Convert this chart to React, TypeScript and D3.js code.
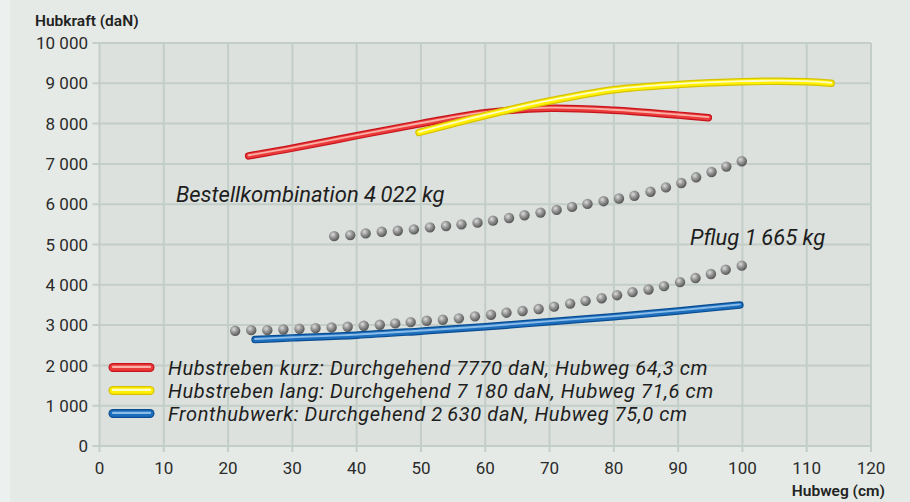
import React from 'react';
import * as d3 from 'd3';

// axis ticks
const xTicks = [0, 10, 20, 30, 40, 50, 60, 70, 80, 90, 100, 110, 120];
const yTicks = [0, 1000, 2000, 3000, 4000, 5000, 6000, 7000, 8000, 9000, 10000];
const yTickLabels = ['0', '1 000', '2 000', '3 000', '4 000', '5 000', '6 000', '7 000', '8 000', '9 000', '10 000'];

// Hubstreben kurz (red)
const kurzPoints: [number, number][] = [
  [23.2, 7200], [30, 7390], [40, 7700], [50, 8000], [60, 8270], [70, 8380], [80, 8330], [90, 8210], [94.7, 8145],
];
// Hubstreben lang (yellow)
const langPoints: [number, number][] = [
  [49.7, 7780], [60, 8200], [70, 8560], [80, 8840], [90, 8970], [100, 9040], [110, 9040], [113.8, 9000],
];
// Fronthubwerk (blue)
const frontPoints: [number, number][] = [
  [24.2, 2640], [30, 2683], [40, 2750], [50, 2850], [60, 2958], [70, 3083], [80, 3208], [90, 3350], [99.6, 3500],
];

// Bestellkombination 4022 kg (grey dots)
const bestellX = [36.5, 39.0, 41.4, 43.9, 46.4, 48.9, 51.4, 53.9, 56.3, 58.8, 61.2, 63.7, 66.1, 68.6, 71.1, 73.5, 75.9, 78.4, 80.8, 83.2, 85.7, 88.1, 90.5, 92.8, 95.2, 97.5, 99.9];
const bestellY = [5208, 5233, 5275, 5317, 5342, 5375, 5425, 5458, 5500, 5542, 5592, 5658, 5725, 5792, 5858, 5933, 6008, 6075, 6142, 6208, 6308, 6417, 6525, 6667, 6800, 6933, 7067];

// Pflug 1665 kg (grey dots)
const pflugX = [21.1, 23.6, 26.1, 28.6, 31.1, 33.6, 36.1, 38.6, 41.1, 43.6, 46.0, 48.4, 50.9, 53.4, 55.9, 58.4, 60.9, 63.3, 65.8, 68.3, 70.7, 73.2, 75.6, 78.1, 80.5, 82.9, 85.4, 87.8, 90.3, 92.7, 95.1, 97.4, 99.9];
const pflugY = [2858, 2875, 2875, 2892, 2908, 2925, 2942, 2958, 2983, 3008, 3042, 3075, 3108, 3133, 3167, 3217, 3258, 3308, 3350, 3400, 3458, 3533, 3600, 3667, 3742, 3817, 3883, 3967, 4067, 4167, 4267, 4375, 4475];

const legendLabels = [
  'Hubstreben kurz: Durchgehend 7770 daN, Hubweg 64,3 cm',
  'Hubstreben lang: Durchgehend 7 180 daN, Hubweg 71,6 cm',
  'Fronthubwerk: Durchgehend 2\u2009630 daN, Hubweg 75,0 cm',
];

const tubes = [
  { points: kurzPoints, dark: '#c8141c', base: '#ea3a3a', light: '#f9b0a6' },
  { points: langPoints, dark: '#d6c200', base: '#fff000', light: '#fffcc8' },
  { points: frontPoints, dark: '#0a4d92', base: '#1d6fbe', light: '#8cbce8' },
];

const W = 910;
const H = 502;
const FONT = "Roboto, 'Open Sans', sans-serif";

export default function App() {
  const x = d3.scaleLinear().domain([0, 120]).range([99.5, 871]);
  const y = d3.scaleLinear().domain([0, 10000]).range([446, 43]);

  const line = d3.line<[number, number]>()
    .x(d => x(d[0]))
    .y(d => y(d[1]))
    .curve(d3.curveCatmullRom.alpha(0.5));

  const grid = '#c3cec8';
  const tickColor = '#2b2b2b';

  const tube = (d: string, t: typeof tubes[0], w: number, key: string) => (
    <g key={key}>
      <path d={d} fill="none" stroke={t.dark} strokeWidth={w} strokeLinecap="round" />
      <path d={d} fill="none" stroke={t.base} strokeWidth={w - 2.4} strokeLinecap="round" />
      <path d={d} fill="none" stroke={t.light} strokeWidth={w * 0.25} strokeLinecap="round" transform="translate(0,-0.6)" />
    </g>
  );

  return (
    <svg width={W} height={H} style={{ position: 'absolute', left: 0, top: 0 }} fontFamily={FONT}>
      <defs>
        <radialGradient id="ball" cx="0.38" cy="0.35" r="0.65">
          <stop offset="0" stopColor="#dcdcdc" />
          <stop offset="0.45" stopColor="#9a9a9a" />
          <stop offset="1" stopColor="#575757" />
        </radialGradient>
      </defs>

      {/* backgrounds */}
      <rect x={0} y={0} width={W} height={H} fill="#e5eae6" />
      <rect x={0} y={0} width={10} height={H} fill="#ecf1f0" />
      <rect x={x(0)} y={y(10000)} width={x(120) - x(0)} height={y(0) - y(10000)} fill="#dce1dd" />

      {/* grid */}
      {yTicks.map(t => (
        <line key={'gy' + t} x1={x(0) - 7} x2={x(120)} y1={y(t)} y2={y(t)} stroke={grid} strokeWidth={2} />
      ))}
      {xTicks.map(t => (
        <line key={'gx' + t} x1={x(t)} x2={x(t)} y1={y(10000)} y2={y(0) + 6} stroke={grid} strokeWidth={2} />
      ))}

      {/* tick labels */}
      {yTicks.map((t, i) => (
        <text key={'ly' + t} x={88} y={y(t)} dy="0.36em" textAnchor="end" fontSize={17} fill={tickColor}>
          {yTickLabels[i]}
        </text>
      ))}
      {xTicks.map(t => (
        <text key={'lx' + t} x={x(t)} y={474} textAnchor="middle" fontSize={17} fill={tickColor}>
          {t}
        </text>
      ))}

      <text x={35} y={26} fontSize={15.5} fontWeight={600} fill="#222">Hubkraft (daN)</text>
      <text x={885} y={496} textAnchor="end" fontSize={15.5} fontWeight={600} fill="#222">Hubweg (cm)</text>

      {/* dot series */}
      {bestellX.map((v, i) => (
        <circle key={'b' + i} cx={x(v)} cy={y(bestellY[i])} r={5.2} fill="url(#ball)" />
      ))}
      {pflugX.map((v, i) => (
        <circle key={'p' + i} cx={x(v)} cy={y(pflugY[i])} r={5.2} fill="url(#ball)" />
      ))}

      {/* tube lines */}
      {tubes.map((t, i) => tube(line(t.points) || '', t, 7.5, 'tube' + i))}

      {/* annotations */}
      <text x={176} y={202} fontSize={22} fontStyle="italic" fill="#1e1e1e">Bestellkombination 4{'\u2009'}022 kg</text>
      <text x={690} y={245} fontSize={22} fontStyle="italic" fill="#1e1e1e">Pflug 1{'\u2009'}665 kg</text>

      {/* legend */}
      {legendLabels.map((lab, i) => {
        const cy = 367.5 + i * 23;
        return (
          <g key={'lg' + i}>
            {tube(`M113,${cy}H150`, tubes[i], 9, 'sw' + i)}
            <text x={168} y={cy + 7.5} fontSize={20} fontStyle="italic" letterSpacing={0.6} fill="#1e1e1e">{lab}</text>
          </g>
        );
      })}
    </svg>
  );
}
